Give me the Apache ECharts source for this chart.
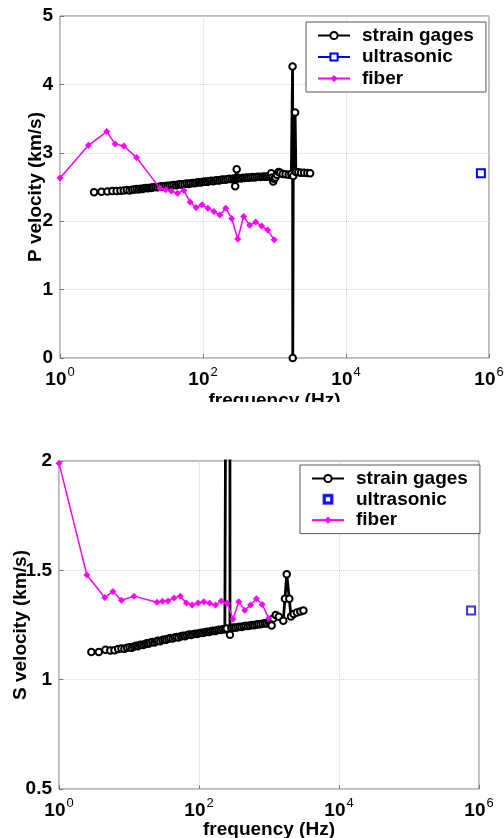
<!DOCTYPE html>
<html>
<head>
<meta charset="utf-8">
<script src="https://cdn.jsdelivr.net/npm/echarts@6/dist/echarts.min.js"></script>
<style>
    html, body { margin: 0; padding: 0; background: #fff; }
    #topWrap { width: 504px; height: 402px; overflow: hidden; }
    #pChart { width: 504px; height: 420px; }
    #sChart { width: 504px; height: 436px; }
</style>
</head>
<body>
<div id="topWrap"><div id="pChart"></div></div>
<div id="sChart"></div>
<script>
// frequencies (Hz) of the fiber measurements, shared by both panels
const fiberFreq = [1, 2.5, 4.5, 5.9, 7.8, 11.8, 25, 30, 36, 44, 54, 66, 80, 97, 117, 142, 172, 208, 252, 306, 370, 450, 545, 660, 800, 990];
const pFiberVel = [2.63, 3.11, 3.31, 3.13, 3.10, 2.93, 2.48, 2.46, 2.44, 2.41, 2.45, 2.28, 2.20, 2.24, 2.19, 2.14, 2.09, 2.19, 2.04, 1.74, 2.07, 1.94, 1.99, 1.93, 1.87, 1.73];
const sFiberVel = [1.99, 1.479, 1.376, 1.403, 1.363, 1.382, 1.354, 1.359, 1.360, 1.374, 1.382, 1.351, 1.342, 1.351, 1.356, 1.350, 1.341, 1.360, 1.350, 1.277, 1.356, 1.318, 1.341, 1.370, 1.344, 1.281];

// strain gages, P wave
const pStrainFreq = [3.0, 3.8, 4.6, 5.4, 6.2, 7.0, 7.8, 8.6, 9.4, 10.2, 11, 11.8, 12.6, 13.4, 14.2, 15, 16, 17, 18, 19, 20, 21.5, 23, 24.5, 26, 28, 30, 32, 34, 36.5, 39, 42, 45, 48, 51, 55, 59, 63, 67, 72, 77, 82, 88, 94, 100, 107, 114, 122, 130, 139, 148, 158, 169, 180, 192, 205, 219, 234, 250, 265, 275, 282, 288, 296, 302, 320, 340, 362, 385, 410, 436, 464, 494, 526, 560, 596, 634, 675, 718, 764, 813, 865, 900, 930, 960, 990, 1030, 1080, 1140, 1200, 1300, 1430, 1580, 1720, 1790, 1800, 1830, 1940, 1990, 2150, 2350, 2600, 2880, 3150];
const pStrainVel = [2.425, 2.43, 2.435, 2.44, 2.44, 2.445, 2.45, 2.455, 2.45, 2.46, 2.465, 2.47, 2.465, 2.475, 2.47, 2.48, 2.485, 2.48, 2.49, 2.485, 2.495, 2.50, 2.495, 2.505, 2.51, 2.505, 2.515, 2.52, 2.515, 2.525, 2.53, 2.525, 2.535, 2.54, 2.535, 2.545, 2.55, 2.545, 2.555, 2.56, 2.555, 2.565, 2.57, 2.565, 2.575, 2.58, 2.575, 2.585, 2.59, 2.585, 2.595, 2.60, 2.595, 2.605, 2.61, 2.605, 2.615, 2.62, 2.615, 2.62, 2.625, 2.51, 2.62, 2.76, 2.625, 2.63, 2.625, 2.635, 2.63, 2.64, 2.635, 2.64, 2.645, 2.64, 2.645, 2.65, 2.645, 2.65, 2.655, 2.65, 2.655, 2.65, 2.70, 2.64, 2.58, 2.62, 2.64, 2.68, 2.72, 2.71, 2.69, 2.685, 2.68, 2.69, 4.26, 0.0, 2.66, 3.59, 2.72, 2.715, 2.71, 2.71, 2.705, 2.70];

// strain gages, S wave
const sStrainFreq = [2.9, 3.7, 4.6, 5.4, 6.2, 7.0, 7.8, 8.6, 9.4, 10.2, 11, 11.8, 12.6, 13.4, 14.2, 15, 16, 17, 18, 19, 20, 21.5, 23, 24.5, 26, 28, 30, 32, 34, 36.5, 39, 42, 45, 48, 51, 55, 59, 63, 67, 72, 77, 82, 88, 94, 100, 107, 114, 122, 130, 139, 148, 158, 169, 180, 192, 205, 219, 234, 245, 249, 251, 276, 277, 290, 310, 330, 355, 380, 405, 435, 465, 500, 535, 575, 615, 660, 705, 755, 810, 870, 930, 1000, 1050, 1090, 1150, 1250, 1380, 1600, 1690, 1790, 1950, 2060, 2250, 2500, 2800, 3100];
const sStrainVel = [1.126, 1.126, 1.137, 1.133, 1.134, 1.140, 1.143, 1.141, 1.146, 1.148, 1.146, 1.152, 1.155, 1.153, 1.158, 1.160, 1.158, 1.163, 1.166, 1.164, 1.169, 1.172, 1.170, 1.175, 1.178, 1.176, 1.181, 1.184, 1.182, 1.187, 1.190, 1.188, 1.193, 1.195, 1.193, 1.198, 1.201, 1.199, 1.203, 1.206, 1.204, 1.208, 1.210, 1.209, 1.212, 1.215, 1.213, 1.217, 1.219, 1.218, 1.221, 1.224, 1.222, 1.226, 1.228, 1.227, 1.230, 1.232, 1.231, 1.234, 4.0, 4.0, 1.205, 1.236, 1.238, 1.237, 1.240, 1.242, 1.241, 1.244, 1.246, 1.245, 1.248, 1.250, 1.249, 1.252, 1.254, 1.253, 1.256, 1.258, 1.257, 1.262, 1.255, 1.248, 1.280, 1.296, 1.288, 1.270, 1.370, 1.482, 1.370, 1.289, 1.300, 1.307, 1.312, 1.316];

// ultrasonic
const ultraFreq = [770000];
const pUltraVel = [2.70];
const sUltraVel = [1.316];

const FONT = 'Liberation Sans, Arial, sans-serif';
// hollow square for the legend of the scatter-only ultrasonic entry
const HOLLOW_SQUARE = 'path://M0,0H10V10H0Z M1.7,1.7V8.3H8.3V1.7Z';

function pairs(xs, ys) {
    return xs.map((x, i) => [x, ys[i]]);
}

function xAxisCfg(gap) {
    return {
        type: 'log',
        logBase: 10,
        min: 1,
        max: 1000000,
        interval: 2,
        name: 'frequency (Hz)',
        nameLocation: 'middle',
        nameGap: gap,
        nameMoveOverlap: false,
        nameTextStyle: { fontFamily: FONT, fontSize: 19, fontWeight: 'bold', color: '#000' },
        axisLine: { show: false },
        axisTick: { inside: true, length: 4, lineStyle: { color: '#777' } },
        minorTick: { show: false },
        splitLine: { show: true, lineStyle: { color: '#d4d4d4', type: 'dotted' } },
        axisLabel: {
            margin: 8,
            formatter: (v) => '{b|10}{s|' + Math.round(Math.log10(v)) + '}',
            rich: {
                b: { fontFamily: FONT, fontSize: 19, fontWeight: 'bold', color: '#000', verticalAlign: 'bottom' },
                s: { fontFamily: FONT, fontSize: 13, fontWeight: 'normal', color: '#000', verticalAlign: 'bottom', padding: [0, 0, 10, 1] }
            }
        }
    };
}

function yAxisCfg(name, min, max, interval, gap) {
    return {
        type: 'value',
        min: min,
        max: max,
        interval: interval,
        name: name,
        nameLocation: 'middle',
        nameGap: gap,
        nameMoveOverlap: false,
        nameTextStyle: { fontFamily: FONT, fontSize: 19, fontWeight: 'bold', color: '#000' },
        axisLine: { show: false },
        axisTick: { inside: true, length: 4, lineStyle: { color: '#777' } },
        splitLine: { show: true, lineStyle: { color: '#d4d4d4', type: 'dotted' } },
        axisLabel: { margin: 7, fontFamily: FONT, fontSize: 19, fontWeight: 'bold', color: '#000' }
    };
}

function legendCfg(left, top, gap, ultraIcon) {
    const ultra = ultraIcon ? { name: 'ultrasonic', icon: ultraIcon } : 'ultrasonic';
    return {
        orient: 'vertical',
        left: left,
        top: top,
        itemWidth: 32,
        itemHeight: 9,
        itemGap: gap,
        padding: [4, 12, 4, 11],
        backgroundColor: '#fff',
        borderColor: '#555',
        borderWidth: 1,
        borderRadius: 0,
        textStyle: { fontFamily: FONT, fontSize: 19, fontWeight: 'bold', color: '#000', lineHeight: 19, padding: [0, 0, 0, 7] },
        data: ['strain gages', ultra, 'fiber']
    };
}

function strainSeries(data) {
    return {
        name: 'strain gages',
        type: 'line',
        data: data,
        symbol: 'emptyCircle',
        symbolSize: 6.5,
        showAllSymbol: true,
        clip: true,
        color: '#000',
        lineStyle: { color: '#000', width: 2.8 },
        itemStyle: { color: '#000', borderColor: '#000', borderWidth: 1.5 },
        z: 3
    };
}

function fiberSeries(data) {
    return {
        name: 'fiber',
        type: 'line',
        data: data,
        symbol: 'diamond',
        symbolSize: 7,
        showAllSymbol: true,
        color: '#ff00ff',
        lineStyle: { color: '#ff00ff', width: 1.5 },
        itemStyle: { color: '#ff00ff' },
        z: 4
    };
}

// ---- P velocity panel ----
const pChart = echarts.init(document.getElementById('pChart'), null, { renderer: 'canvas' });
pChart.setOption({
    animation: false,
    backgroundColor: '#fff',
    grid: { left: 60, right: 15, top: 16, height: 342, outerBoundsMode: 'none', show: true, borderColor: '#777', borderWidth: 1, backgroundColor: 'transparent' },
    legend: legendCfg(306, 22, 2.5),
    xAxis: xAxisCfg(33),
    yAxis: yAxisCfg('P velocity (km/s)', 0, 5, 1, 15),
    series: [
        strainSeries(pairs(pStrainFreq, pStrainVel)),
        {
            name: 'ultrasonic',
            type: 'line',
            data: pairs(ultraFreq, pUltraVel),
            symbol: 'emptyRect',
            symbolSize: 8,
            color: '#0000ff',
            lineStyle: { color: '#0000ff', width: 1.5 },
            itemStyle: { color: '#0000ff', borderColor: '#0000ff', borderWidth: 1.5 }
        },
        fiberSeries(pairs(fiberFreq, pFiberVel))
    ]
});

// ---- S velocity panel ----
const sChart = echarts.init(document.getElementById('sChart'), null, { renderer: 'canvas' });
sChart.setOption({
    animation: false,
    backgroundColor: '#fff',
    grid: { left: 59, right: 25, top: 59, height: 328, outerBoundsMode: 'none', show: true, borderColor: '#777', borderWidth: 1, backgroundColor: 'transparent' },
    legend: legendCfg(300, 63, 1.8, HOLLOW_SQUARE),
    xAxis: xAxisCfg(31),
    yAxis: yAxisCfg('S velocity (km/s)', 0.5, 2, 0.5, 29),
    series: [
        strainSeries(pairs(sStrainFreq, sStrainVel)),
        {
            name: 'ultrasonic',
            type: 'scatter',
            data: pairs(ultraFreq, sUltraVel),
            symbol: 'emptyRect',
            symbolSize: 8,
            color: '#0000ff',
            itemStyle: { color: '#0000ff', borderColor: '#0000ff', borderWidth: 1.5 }
        },
        fiberSeries(pairs(fiberFreq, sFiberVel))
    ]
});
</script>
</body>
</html>
